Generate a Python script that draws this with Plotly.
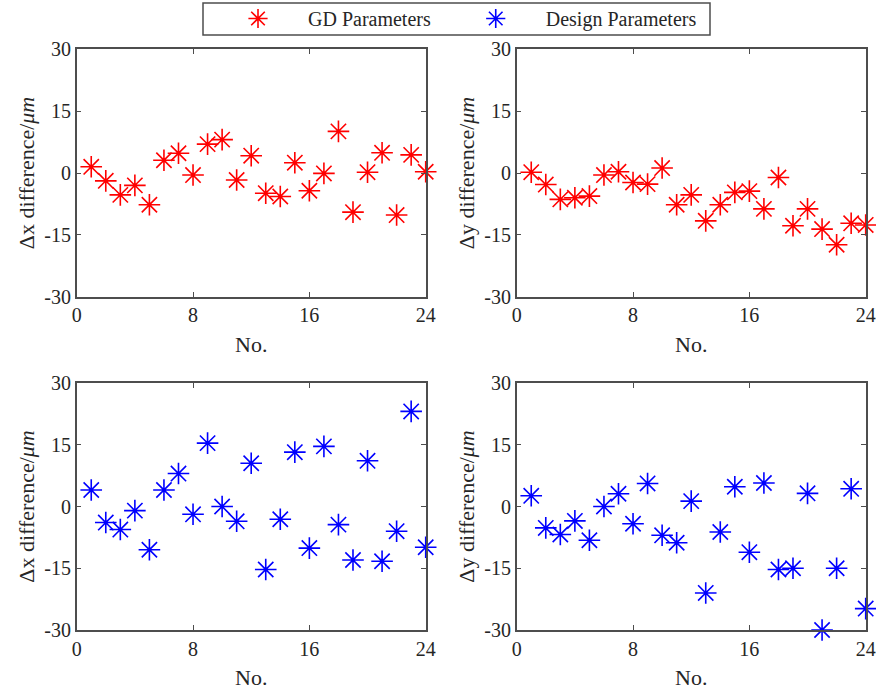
import plotly.graph_objects as go

W, H = 876, 694

no = list(range(1, 25))

gd_dx = [1.5, -1.9, -5.3, -3.0, -7.7, 3.1, 4.8, -0.5, 7.0, 8.1, -1.7, 4.2,
         -4.9, -5.7, 2.5, -4.3, -0.1, 10.1, -9.5, 0.2, 4.9, -10.2, 4.4, 0.3]
gd_dy = [0.2, -2.8, -6.4, -6.0, -5.6, -0.5, 0.3, -2.3, -2.7, 1.2, -7.7, -5.3,
         -11.6, -7.7, -4.7, -4.4, -8.7, -1.1, -12.8, -8.7, -13.6, -17.4, -12.2, -12.6]
de_dx = [4.0, -3.9, -5.6, -1.0, -10.5, 4.0, 8.0, -1.9, 15.4, 0.0, -3.6, 10.5,
         -15.3, -3.1, 13.2, -10.1, 14.6, -4.4, -13.0, 11.1, -13.3, -6.0, 23.1, -9.9]
de_dy = [2.6, -5.2, -6.8, -3.5, -8.2, 0.0, 3.1, -4.2, 5.6, -7.0, -8.8, 1.3,
         -21.0, -6.2, 4.8, -11.1, 5.7, -15.3, -15.0, 3.2, -30.0, -15.0, 4.3, -24.8]

x_ticks = [0, 8, 16, 24]
y_ticks = [-30, -15, 0, 15, 30]
y_tick_labels = ["-30", "-15", "0", "15", "30"]
x_title = "No."
y_titles = ["\u0394x difference/<i>\u03bcm</i>", "\u0394y difference/<i>\u03bcm</i>"]
series_names = ["GD Parameters", "Design Parameters"]
colors = ["#ff0000", "#0000ff"]

FONT = "Liberation Serif, Times New Roman, serif"
PAD = "\u00a0\u00a0"  # trailing gap after the first legend entry

# pixel boxes of the four panels (left, right, top, bottom)
boxes = [
    (76.7, 425.7, 49.3, 296.7),
    (516.7, 865.7, 49.3, 296.7),
    (76.7, 425.7, 383.0, 630.0),
    (516.7, 865.7, 383.0, 630.0),
]

panels = [
    (gd_dx, 0, y_titles[0]),
    (gd_dy, 0, y_titles[1]),
    (de_dx, 1, y_titles[0]),
    (de_dy, 1, y_titles[1]),
]

fig = go.Figure()
shown = set()
for i, ((vals, s, yt), (l, r, t, b)) in enumerate(zip(panels, boxes)):
    k = "" if i == 0 else str(i + 1)
    fig.add_trace(go.Scatter(
        x=no, y=vals, mode="markers",
        name=series_names[s] + (PAD if s == 0 else ""), legendgroup=series_names[s],
        showlegend=s not in shown,
        marker=dict(symbol="asterisk-open", size=18, color=colors[s],
                    line=dict(color=colors[s], width=1.6)),
        xaxis="x" + k, yaxis="y" + k, cliponaxis=False,
    ))
    shown.add(s)
    axcommon = dict(showline=True, mirror="ticks", linecolor="#4d4d4d", linewidth=1.5,
                    ticks="inside", ticklen=5, tickwidth=1.2, tickcolor="#4d4d4d",
                    showgrid=False, zeroline=False,
                    tickfont=dict(family=FONT, size=20, color="#262626"))
    fig.layout["xaxis" + k] = dict(
        axcommon, domain=[l / W, r / W], range=[0, 24], tickvals=x_ticks,
        anchor="y" + k,
        title=dict(text=x_title, font=dict(family=FONT, size=22, color="#262626"), standoff=11),
    )
    fig.layout["yaxis" + k] = dict(
        axcommon, domain=[1 - b / H, 1 - t / H], range=[-30, 30],
        tickvals=y_ticks, ticktext=y_tick_labels,
        anchor="x" + k,
        title=dict(text=yt, font=dict(family=FONT, size=22, color="#262626"), standoff=4),
    )

fig.add_shape(type="rect", xref="paper", yref="paper",
              x0=203 / W, x1=710 / W, y0=1 - 35 / H, y1=1 - 3 / H,
              line=dict(color="#4d4d4d", width=1.5), fillcolor="white", layer="below")

fig.update_layout(
    width=W, height=H,
    margin=dict(l=0, r=0, t=0, b=0, autoexpand=False),
    paper_bgcolor="white", plot_bgcolor="white",
    font=dict(family=FONT, size=20, color="#262626"),
    legend=dict(orientation="h", x=208 / W, y=1 + 1 / H, xanchor="left", yanchor="top",
                bgcolor="rgba(0,0,0,0)", borderwidth=0, itemwidth=90,
                font=dict(family=FONT, size=20, color="#262626")),
)

fig.write_html("out.html", config={"displayModeBar": False},
               post_script="document.body.style.margin='0';")
